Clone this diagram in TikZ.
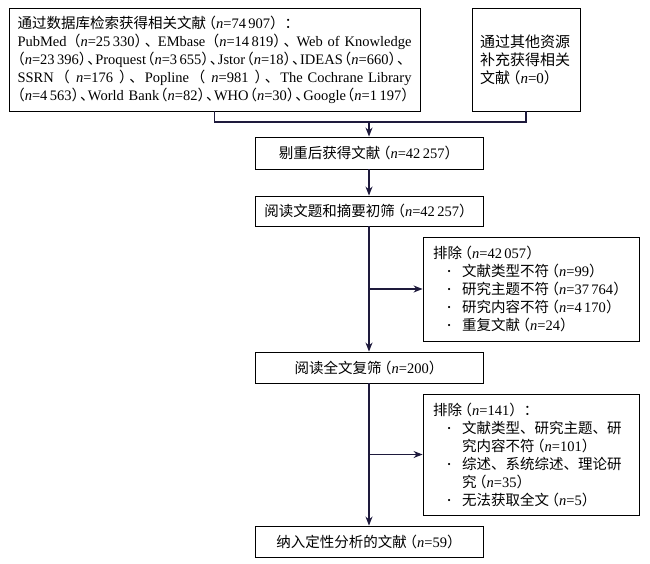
\documentclass[tikz,border=0pt]{standalone}
\usepackage{fontspec}
\setmainfont{Liberation Serif}
\newfontfamily\cjk{Noto Sans CJK SC}
\usetikzlibrary{arrows.meta}
\newcommand\zh[1]{{\cjk #1}}
\newcommand\nn[1]{\textit{n}=#1}
\newcommand\g{\hskip 0pt plus 6pt\relax}
\newcommand\gs{\hskip 0pt plus 2pt\relax}
\newcommand\lp{\kern-0.3em\zh{（}}
\newcommand\rp{\zh{）}\kern-0.3em\relax}
\newcommand\dun{\zh{、}\kern-0.35em\relax}
\newcommand\tlp{\kern-0.42em\zh{（}}
\newcommand\trp{\zh{）}\kern-0.42em\relax}
\newcommand\tdun{\zh{、}\kern-0.45em\relax}
\newcommand\bul{\makebox[29pt][l]{\hspace*{14.5pt}\raisebox{1.6pt}{\fontsize{9pt}{9pt}\selectfont\textbullet}}}
\newcommand\fline[1]{\leavevmode\hbox to 394pt{#1}}
\definecolor{lnc}{HTML}{1E1A3C}
\tikzset{
  box/.style={draw=black, line width=0.9pt, inner sep=0pt, font=\fontsize{14.5pt}{18pt}\selectfont},
  mainbox/.style={box, minimum width=228pt, align=center},
  exbox/.style={box, minimum width=216pt, text width=196pt, align=left},
  conn/.style={draw=lnc, line width=1.1pt},
  arr/.style={conn, -{Stealth[length=9pt,width=7pt]}}
}
\begin{document}
\begin{tikzpicture}[x=1pt,y=-1pt]
\useasboundingbox (0,0) rectangle (650,564);
% top boxes
\node[box, minimum width=411pt, minimum height=103pt, text width=394pt, align=left] (b1) at (214.5,59.5) {%
\zh{通过数据库检索获得相关文献}\lp\nn{74\,907}\zh{）：}\\
\fline{PubMed\g\lp\nn{25\,330}\rp\dun\g EMbase\g\lp\nn{14\,819}\rp\dun\g Web of Knowledge}\\
\fline{\kern-0.5em\zh{（}\nn{23\,396}\trp\tdun\g Proquest\g\tlp\nn{3\,655}\trp\tdun\g Jstor\g\tlp\nn{18}\trp\tdun\g IDEAS\g\tlp\nn{660}\trp\g\zh{、}}\\
\fline{SSRN\gs\lp\gs\nn{176}\gs\rp\dun\gs Popline\gs\lp\gs\nn{981}\gs\rp\dun\gs The Cochrane Library}\\
\fline{\kern-0.5em\zh{（}\nn{4\,563}\trp\tdun\g World Bank\g\tlp\nn{82}\trp\tdun\g WHO\g\tlp\nn{30}\trp\tdun\g Google\g\tlp\nn{1\,197}\zh{）}}};
\node[box, minimum width=108pt, minimum height=103pt, text width=92pt, align=left, font=\fontsize{15pt}{18pt}\selectfont] (b2) at (526,59.5) {%
\zh{通过其他资源}\\ \zh{补充获得相关}\\ \zh{文献}\lp\nn{0}\zh{）}};
% main column
\node[mainbox, minimum height=32pt] (b3) at (369,153) {\zh{剔重后获得文献}\lp\nn{42\,257}\zh{）}};
\node[mainbox, minimum height=30pt] (b4) at (369,211) {\zh{阅读文题和摘要初筛}\lp\nn{42\,257}\zh{）}};
\node[mainbox, minimum height=31pt] (b5) at (369,367.5) {\zh{阅读全文复筛}\lp\nn{200}\zh{）}};
\node[mainbox, minimum height=31pt] (b6) at (369,541.5) {\zh{纳入定性分析的文献}\lp\nn{59}\zh{）}};
% exclusion boxes
\node[exbox, minimum height=104pt] (e1) at (531,289) {%
\zh{排除}\lp\nn{42\,057}\zh{）}\\
\bul\zh{文献类型不符}\lp\nn{99}\zh{）}\\
\bul\zh{研究主题不符}\lp\nn{37\,764}\zh{）}\\
\bul\zh{研究内容不符}\lp\nn{4\,170}\zh{）}\\
\bul\zh{重复文献}\lp\nn{24}\zh{）}};
\node[exbox, minimum height=121pt] (e2) at (531,454.5) {%
\zh{排除}\lp\nn{141}\zh{）：}\\
\bul\zh{文献类型、研究主题、研}\\
\hspace*{29pt}\zh{究内容不符}\lp\nn{101}\zh{）}\\
\bul\zh{综述、系统综述、理论研}\\
\hspace*{29pt}\zh{究}\lp\nn{35}\zh{）}\\
\bul\zh{无法获取全文}\lp\nn{5}\zh{）}};
% connectors
\coordinate (m) at (369,122);
\coordinate (k1) at (369,289);
\coordinate (k2) at (369,454.5);
\draw[conn] (b1.south) |- (m) -| (b2.south);
\draw[arr] (m) -- (b3.north);
\draw[arr] (b3.south) -- (b4.north);
\draw[arr] (b4.south) -- (b5.north);
\draw[arr] (k1) -- (e1.west);
\draw[arr] (b5.south) -- (b6.north);
\draw[arr] (k2) -- (e2.west);
\end{tikzpicture}
\end{document}
